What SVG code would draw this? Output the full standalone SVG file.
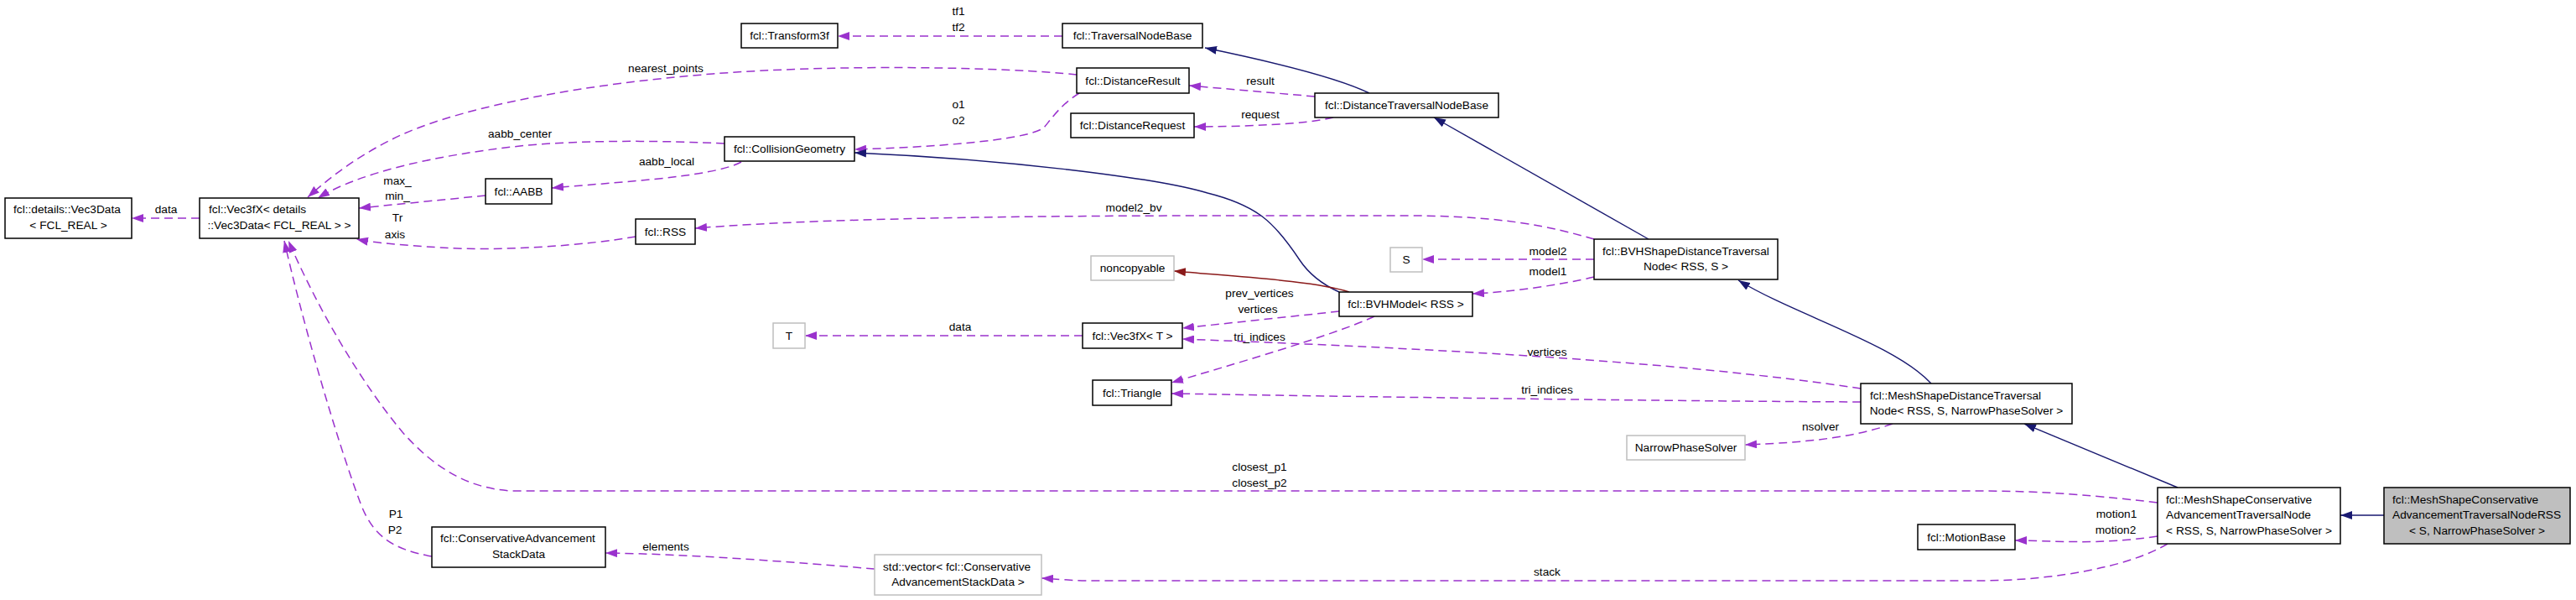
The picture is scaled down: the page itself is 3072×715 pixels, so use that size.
<svg xmlns="http://www.w3.org/2000/svg" width="3072" height="715" viewBox="0 0 3072 715">
<style>
text{font-family:"Liberation Sans",Arial,sans-serif;font-size:13.7px;fill:#000}
.c{text-anchor:middle}
.n{fill:#fff;stroke:#000;stroke-width:1.5}
.g{fill:#fff;stroke:#bfbfbf;stroke-width:1.5}
.h{fill:#bfbfbf;stroke:#000;stroke-width:1.5}
.u{fill:none;stroke:#9a32cd;stroke-width:1.5;stroke-dasharray:10,6;marker-end:url(#ap)}
.i{fill:none;stroke:#191970;stroke-width:1.4;marker-end:url(#an)}
.r{fill:none;stroke:#8b1a1a;stroke-width:1.4;marker-end:url(#ar)}
</style>
<defs>
<marker id="ap" markerUnits="userSpaceOnUse" markerWidth="14" markerHeight="10" viewBox="0 0 14 10" refX="14" refY="5" orient="auto"><path d="M0,0L14,5L0,10z" fill="#9a32cd"/></marker>
<marker id="an" markerUnits="userSpaceOnUse" markerWidth="14" markerHeight="10" viewBox="0 0 14 10" refX="14" refY="5" orient="auto"><path d="M0,0L14,5L0,10z" fill="#191970"/></marker>
<marker id="ar" markerUnits="userSpaceOnUse" markerWidth="14" markerHeight="10" viewBox="0 0 14 10" refX="14" refY="5" orient="auto"><path d="M0,0L14,5L0,10z" fill="#8b1a1a"/></marker>
</defs>
<rect width="3072" height="715" fill="#fff"/>
<g id="connectors">
<path class="u" d="M238,260 L157,260"/>
<path class="u" d="M1284,89 C1200,80 1000,76 850,88 C700,100 560,125 480,160 C430,183 395,210 367,235"/>
<path class="u" d="M864,171 C800,168 700,166 620,174 C520,185 430,205 379,236"/>
<path class="u" d="M884,193 C850,212 720,218 658,224"/>
<path class="u" d="M579,233 L428,248"/>
<path class="u" d="M758,282 C700,292 600,300 525,295 C480,292 450,290 425,285"/>
<path class="u" d="M1901,285 C1850,270 1790,257 1680,257 L1480,257 C1300,257 1000,258 829,272"/>
<path class="u" d="M1267,43 L999,43"/>
<path class="i" d="M1633,111 C1590,90 1500,70 1437,57"/>
<path class="u" d="M1568,115 L1418,102"/>
<path class="u" d="M1590,140 C1560,148 1480,151 1424,151"/>
<path class="u" d="M1287,111 C1265,125 1255,140 1245,152 C1225,168 1100,176 1019,178"/>
<path class="i" d="M1597,348 C1575,338 1560,325 1550,310 C1520,265 1500,245 1440,230 C1380,212 1200,190 1019,182"/>
<path class="r" d="M1609,348 C1570,335 1480,330 1400,323"/>
<path class="u" d="M1901,309 L1696,309"/>
<path class="u" d="M1901,330 C1860,340 1800,348 1756,350"/>
<path class="i" d="M1966,285 L1710,140"/>
<path class="u" d="M1597,371 L1410,391"/>
<path class="u" d="M1291,400 L960,400"/>
<path class="u" d="M1639,377 C1590,400 1460,437 1397,456"/>
<path class="u" d="M2219,463 C2000,430 1700,415 1410,404"/>
<path class="u" d="M2219,479 C2000,478 1700,474 1397,469"/>
<path class="u" d="M2573,599 C2480,588 2420,585 2360,585 L610,585 C560,582 520,560 480,515 C430,455 380,370 344,287"/>
<path class="u" d="M515,663 C470,655 445,640 430,600 C400,520 360,380 339,287"/>
<path class="u" d="M1043,678 C950,670 820,660 722,659"/>
<path class="u" d="M2585,648 C2540,675 2450,692 2360,692 L1300,692 C1280,692 1260,690 1242,689"/>
<path class="u" d="M2573,639 C2500,650 2450,644 2403,644"/>
<path class="u" d="M2257,505 C2200,525 2130,528 2081,530"/>
<path class="i" d="M2303,457 C2260,410 2140,375 2073,334"/>
<path class="i" d="M2597,581 L2414,505"/>
<path class="i" d="M2843,614 L2791,614"/>
<g id="edge-labels">
<text class="c" x="198" y="254">data</text>
<text class="c" x="794" y="86">nearest_points</text>
<text class="c" x="620" y="164">aabb_center</text>
<text class="c" x="795" y="197">aabb_local</text>
<text class="c" x="474" y="220">max_</text>
<text class="c" x="474" y="238">min_</text>
<text class="c" x="474" y="264">Tr</text>
<text class="c" x="471" y="284">axis</text>
<text class="c" x="1143" y="18">tf1</text>
<text class="c" x="1143" y="37">tf2</text>
<text class="c" x="1503" y="101">result</text>
<text class="c" x="1503" y="141">request</text>
<text class="c" x="1143" y="129">o1</text>
<text class="c" x="1143" y="148">o2</text>
<text class="c" x="1352" y="252">model2_bv</text>
<text class="c" x="1846" y="304">model2</text>
<text class="c" x="1846" y="328">model1</text>
<text class="c" x="1502" y="354">prev_vertices</text>
<text class="c" x="1500" y="373">vertices</text>
<text class="c" x="1145" y="394">data</text>
<text class="c" x="1502" y="406">tri_indices</text>
<text class="c" x="1845" y="424">vertices</text>
<text class="c" x="1845" y="469">tri_indices</text>
<text class="c" x="2171" y="513">nsolver</text>
<text class="c" x="1502" y="561">closest_p1</text>
<text class="c" x="1502" y="580">closest_p2</text>
<text class="c" x="472" y="617">P1</text>
<text class="c" x="471" y="636">P2</text>
<text class="c" x="794" y="656">elements</text>
<text class="c" x="2524" y="617">motion1</text>
<text class="c" x="2523" y="636">motion2</text>
<text class="c" x="1845" y="686">stack</text>
</g>
</g>
<g id="n_vec3data"><rect class="n" x="6" y="236" width="151" height="48"/><text x="16" y="254">fcl::details::Vec3Data</text><text class="c" x="81.5" y="273">&lt; FCL_REAL &gt;</text></g>
<g id="n_vec3fx_details"><rect class="n" x="238" y="236" width="190" height="48"/><text x="249" y="254">fcl::Vec3fX&lt; details</text><text class="c" x="333" y="273">::Vec3Data&lt; FCL_REAL &gt; &gt;</text></g>
<g id="n_aabb"><rect class="n" x="579" y="213" width="79" height="30"/><text class="c" x="618.5" y="233">fcl::AABB</text></g>
<g id="n_rss"><rect class="n" x="758" y="261" width="71" height="30"/><text class="c" x="793.5" y="281">fcl::RSS</text></g>
<g id="n_transform3f"><rect class="n" x="884" y="28" width="115" height="29"/><text class="c" x="941.5" y="47">fcl::Transform3f</text></g>
<g id="n_traversalnodebase"><rect class="n" x="1267" y="28" width="167" height="29"/><text class="c" x="1350.5" y="47">fcl::TraversalNodeBase</text></g>
<g id="n_distanceresult"><rect class="n" x="1284" y="81" width="134" height="30"/><text class="c" x="1351" y="101">fcl::DistanceResult</text></g>
<g id="n_distancerequest"><rect class="n" x="1277" y="135" width="147" height="29"/><text class="c" x="1350.5" y="154">fcl::DistanceRequest</text></g>
<g id="n_distancetraversalnodebase"><rect class="n" x="1568" y="111" width="219" height="29"/><text class="c" x="1677.5" y="130">fcl::DistanceTraversalNodeBase</text></g>
<g id="n_collisiongeometry"><rect class="n" x="864" y="163" width="155" height="29"/><text class="c" x="941.5" y="182">fcl::CollisionGeometry</text></g>
<g id="n_noncopyable"><rect class="g" x="1301" y="305" width="99" height="29"/><text class="c" x="1350.5" y="324">noncopyable</text></g>
<g id="n_s"><rect class="g" x="1658" y="295" width="38" height="29"/><text class="c" x="1677" y="314">S</text></g>
<g id="n_bvhmodel"><rect class="n" x="1597" y="348" width="159" height="29"/><text class="c" x="1676.5" y="367">fcl::BVHModel&lt; RSS &gt;</text></g>
<g id="n_bvhshape"><rect class="n" x="1901" y="285" width="219" height="48"/><text x="1911" y="304">fcl::BVHShapeDistanceTraversal</text><text class="c" x="2010.5" y="322">Node&lt; RSS, S &gt;</text></g>
<g id="n_t"><rect class="g" x="922" y="385" width="38" height="30"/><text class="c" x="941" y="405">T</text></g>
<g id="n_vec3fx_t"><rect class="n" x="1291" y="385" width="119" height="30"/><text class="c" x="1350.5" y="405">fcl::Vec3fX&lt; T &gt;</text></g>
<g id="n_triangle"><rect class="n" x="1303" y="453" width="94" height="30"/><text class="c" x="1350" y="473">fcl::Triangle</text></g>
<g id="n_meshshapedistance"><rect class="n" x="2219" y="457" width="252" height="48"/><text x="2230" y="476">fcl::MeshShapeDistanceTraversal</text><text class="c" x="2345" y="494">Node&lt; RSS, S, NarrowPhaseSolver &gt;</text></g>
<g id="n_narrowphasesolver"><rect class="g" x="1940" y="519" width="141" height="29"/><text class="c" x="2010.5" y="538">NarrowPhaseSolver</text></g>
<g id="n_stackdata"><rect class="n" x="515" y="628" width="207" height="48"/><text x="525" y="646">fcl::ConservativeAdvancement</text><text class="c" x="618.5" y="665">StackData</text></g>
<g id="n_stdvector"><rect class="g" x="1043" y="661" width="199" height="48"/><text x="1053" y="680">std::vector&lt; fcl::Conservative</text><text class="c" x="1142.5" y="698">AdvancementStackData &gt;</text></g>
<g id="n_motionbase"><rect class="n" x="2287" y="625" width="116" height="30"/><text class="c" x="2345" y="645">fcl::MotionBase</text></g>
<g id="n_meshshapeconservative"><rect class="n" x="2573" y="581" width="218" height="67"/><text x="2583" y="600">fcl::MeshShapeConservative</text><text x="2583" y="618">AdvancementTraversalNode</text><text class="c" x="2682" y="637">&lt; RSS, S, NarrowPhaseSolver &gt;</text></g>
<g id="n_meshshapeconservativerss"><rect class="h" x="2843" y="581" width="222" height="67"/><text x="2853" y="600">fcl::MeshShapeConservative</text><text x="2853" y="618">AdvancementTraversalNodeRSS</text><text class="c" x="2954" y="637">&lt; S, NarrowPhaseSolver &gt;</text></g>
</svg>
